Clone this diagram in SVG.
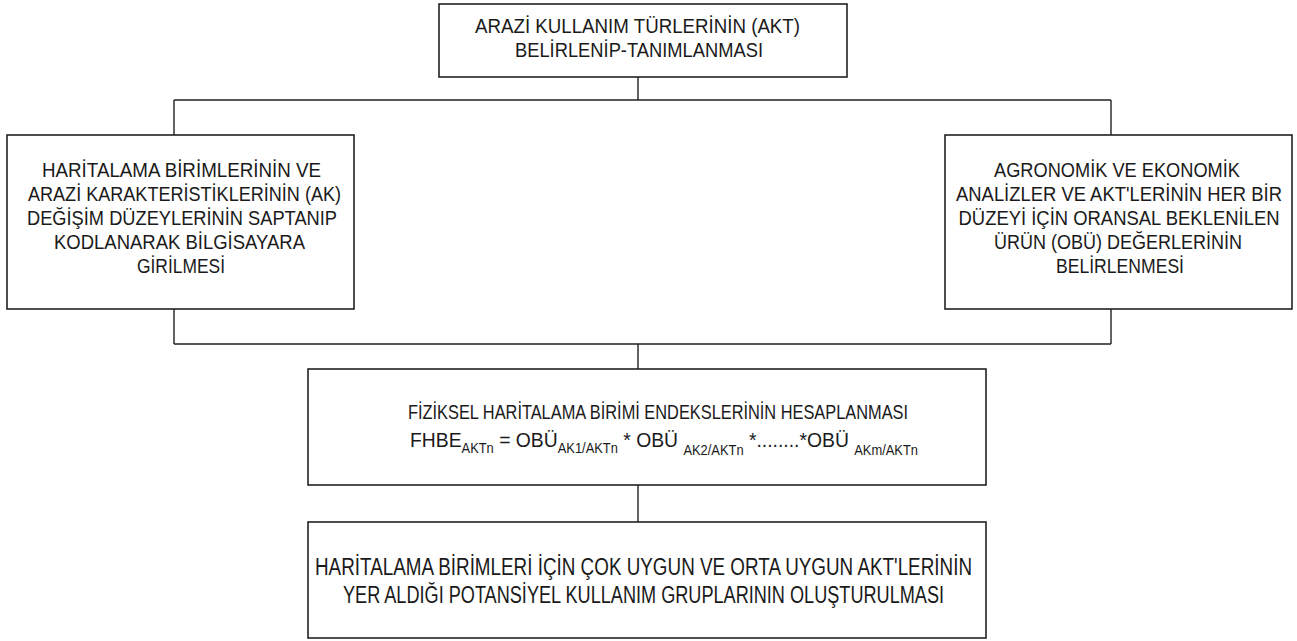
<svg xmlns="http://www.w3.org/2000/svg" width="1297" height="641" viewBox="0 0 1297 641">
<style>
.box{fill:#fff;stroke:#222;stroke-width:1.6}
.con{fill:none;stroke:#222;stroke-width:1.4}
text{font-family:"Liberation Sans",Arial,sans-serif;fill:#1a1a1a;font-size:21px}
.c{text-anchor:middle}
.big{font-size:23px}
.sub{font-size:14px}
</style>
<rect width="1297" height="641" fill="#fff"/>
<g id="connectors">
<path class="con" d="M638,77 V100 M174,100 H1111 M174,100 V135 M1111,100 V135"/>
<path class="con" d="M174,309 V344 M1111,309 V344 M174,344 H1111 M638,344 V369"/>
<path class="con" d="M638,485 V522"/>
</g>
<g id="node-akt">
<rect class="box" x="439" y="4" width="408" height="73"/>
<text class="c" x="637.5" y="33" textLength="325" lengthAdjust="spacingAndGlyphs">ARAZİ KULLANIM TÜRLERİNİN (AKT)</text>
<text class="c" x="639" y="57" textLength="248" lengthAdjust="spacingAndGlyphs">BELİRLENİP-TANIMLANMASI</text>
</g>
<g id="node-ak">
<rect class="box" x="7" y="135" width="347" height="174"/>
<text class="c" x="181.5" y="177" textLength="279" lengthAdjust="spacingAndGlyphs">HARİTALAMA BİRİMLERİNİN VE</text>
<text class="c" x="184.5" y="201" textLength="313" lengthAdjust="spacingAndGlyphs">ARAZİ KARAKTERİSTİKLERİNİN (AK)</text>
<text class="c" x="182" y="225" textLength="310" lengthAdjust="spacingAndGlyphs">DEĞİŞİM DÜZEYLERİNİN SAPTANIP</text>
<text class="c" x="179.5" y="249" textLength="251" lengthAdjust="spacingAndGlyphs">KODLANARAK BİLGİSAYARA</text>
<text class="c" x="181" y="273" textLength="88" lengthAdjust="spacingAndGlyphs">GİRİLMESİ</text>
</g>
<g id="node-obu">
<rect class="box" x="945" y="135" width="347" height="174"/>
<text class="c" x="1117" y="177" textLength="246" lengthAdjust="spacingAndGlyphs">AGRONOMİK VE EKONOMİK</text>
<text class="c" x="1119" y="201" textLength="326" lengthAdjust="spacingAndGlyphs">ANALİZLER VE AKT'LERİNİN HER BİR</text>
<text class="c" x="1119" y="225" textLength="321" lengthAdjust="spacingAndGlyphs">DÜZEYİ İÇİN ORANSAL BEKLENİLEN</text>
<text class="c" x="1118" y="249" textLength="248" lengthAdjust="spacingAndGlyphs">ÜRÜN (OBÜ) DEĞERLERİNİN</text>
<text class="c" x="1120" y="273" textLength="128" lengthAdjust="spacingAndGlyphs">BELİRLENMESİ</text>
</g>
<g id="node-fhbe">
<rect class="box" x="308" y="369" width="678" height="116"/>
<text x="408" y="419" textLength="500" lengthAdjust="spacingAndGlyphs">FİZİKSEL HARİTALAMA BİRİMİ ENDEKSLERİNİN HESAPLANMASI</text>
<text x="410" y="447" textLength="508" lengthAdjust="spacingAndGlyphs">FHBE<tspan class="sub" dy="6">AKTn</tspan><tspan dy="-6"> = OBÜ</tspan><tspan class="sub" dy="6">AK1/AKTn</tspan><tspan dy="-6"> * OBÜ </tspan><tspan class="sub" dy="8">AK2/AKTn</tspan><tspan dy="-8"> *........*OBÜ </tspan><tspan class="sub" dy="8">AKm/AKTn</tspan></text>
</g>
<g id="node-gruplar">
<rect class="box" x="308" y="522" width="678" height="116"/>
<text class="big" x="315" y="575" textLength="657" lengthAdjust="spacingAndGlyphs">HARİTALAMA BİRİMLERİ İÇİN ÇOK UYGUN VE ORTA UYGUN AKT'LERİNİN</text>
<text class="big" x="343" y="603" textLength="601" lengthAdjust="spacingAndGlyphs">YER ALDIĞI POTANSİYEL KULLANIM GRUPLARININ OLUŞTURULMASI</text>
</g>
</svg>
